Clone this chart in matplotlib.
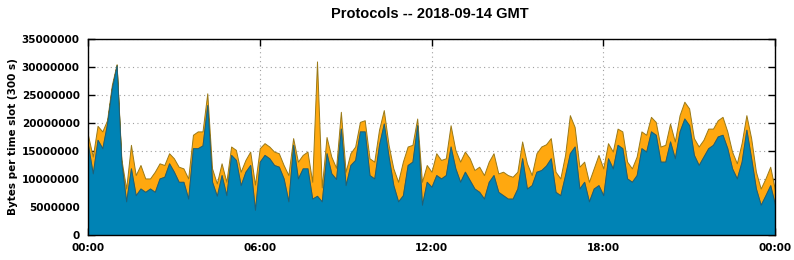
import numpy as np
import matplotlib
matplotlib.use("Agg")
import matplotlib.pyplot as plt
from matplotlib.ticker import FuncFormatter

# traffic per 10 minute slot, in millions of bytes
total = [17.8, 14.0, 19.5, 18.5, 20.5, 26.8, 30.5, 13.5, 8.3, 16.1,
         10.7, 12.5, 10.1, 10.1, 11.3, 12.8, 12.5, 14.6, 13.7, 12.2,
         11.9, 10.1, 17.9, 18.5, 18.5, 25.3, 11.9, 9.2, 12.8, 9.5,
         15.8, 15.2, 11.3, 13.4, 14.9, 9.0, 15.5, 16.4, 15.8, 14.9,
         14.6, 12.5, 10.7, 17.3, 13.1, 14.3, 14.9, 9.5, 31.0, 8.5,
         17.5, 14.0, 12.0, 22.0, 11.3, 14.6, 15.8, 20.2, 20.5, 13.7,
         13.1, 18.8, 22.3, 16.1, 11.9, 9.5, 13.1, 15.8, 16.1, 20.8,
         9.5, 12.5, 11.3, 14.6, 13.4, 13.7, 19.6, 15.2, 13.1, 14.9,
         13.7, 11.6, 12.2, 10.7, 13.1, 14.6, 11.0, 11.3, 10.7, 10.4,
         11.3, 16.7, 12.8, 10.7, 14.6, 15.8, 16.2, 17.3, 11.3, 10.1,
         14.3, 21.4, 19.3, 12.2, 13.1, 9.5, 11.9, 14.3, 11.9, 16.4,
         14.9, 19.0, 18.5, 13.1, 11.9, 14.0, 18.5, 17.9, 21.1, 20.2,
         15.8, 16.1, 19.9, 16.7, 21.4, 23.8, 22.6, 17.3, 15.8, 17.0,
         19.0, 19.0, 20.5, 21.1, 18.5, 14.9, 12.8, 16.4, 21.4, 17.3,
         11.3, 8.3, 10.1, 12.2, 8.0]
blue = [16.0, 11.0, 17.0, 15.5, 19.9, 26.2, 30.3, 12.8, 6.0, 11.9,
        7.1, 8.3, 7.7, 8.3, 7.7, 10.1, 10.4, 12.8, 11.3, 9.5,
        9.5, 6.5, 15.5, 15.5, 16.0, 23.2, 9.5, 7.0, 10.7, 7.1,
        14.3, 13.4, 8.9, 11.3, 12.5, 4.5, 13.1, 14.3, 13.7, 12.5,
        12.2, 10.1, 6.0, 16.1, 10.1, 11.9, 11.9, 6.5, 7.0, 6.0,
        14.6, 11.0, 10.0, 19.0, 8.9, 12.5, 13.4, 18.5, 18.5, 10.7,
        10.1, 16.1, 19.9, 14.0, 8.9, 6.0, 7.1, 12.5, 13.1, 19.6,
        5.4, 9.5, 8.6, 10.7, 10.1, 10.7, 15.8, 11.9, 9.5, 11.3,
        9.8, 8.3, 7.7, 6.5, 9.5, 10.7, 7.7, 7.1, 6.5, 6.5,
        8.3, 13.7, 8.3, 8.9, 11.3, 11.6, 12.4, 13.7, 7.7, 7.1,
        10.7, 14.6, 15.8, 8.3, 9.5, 6.0, 8.3, 8.9, 7.1, 13.7,
        11.9, 16.1, 15.5, 10.1, 9.5, 10.7, 15.5, 14.9, 18.5, 17.9,
        13.1, 13.1, 16.7, 13.7, 18.5, 20.8, 19.6, 14.3, 12.5, 14.0,
        15.5, 16.1, 17.6, 17.9, 15.5, 11.9, 10.1, 13.1, 18.8, 13.7,
        8.3, 5.4, 7.1, 8.9, 5.4]

hours = np.arange(len(total)) / 6.0
total = np.array(total) * 1e6
blue = np.array(blue) * 1e6

plt.rcParams["font.family"] = "DejaVu Sans"
plt.rcParams["font.weight"] = "bold"
plt.rcParams["font.size"] = 7.5

fig = plt.figure(figsize=(7.94, 2.6), dpi=100)
ax = fig.add_axes([88 / 794, 1 - 235 / 260, 687 / 794, 196 / 260])

ax.fill_between(hours, blue, total, facecolor="#ffa80f", edgecolor="#9a7a18", linewidth=0.7)
ax.fill_between(hours, 0, blue, facecolor="#0083b5", edgecolor="#1d5f78", linewidth=0.7)

ax.set_xlim(0, 24)
ax.set_ylim(0, 35e6)
ax.set_xticks([0, 6, 12, 18, 24])
ax.xaxis.set_major_formatter(FuncFormatter(lambda v, p: "%02d:00" % (int(v) % 24)))
ax.set_yticks(np.arange(0, 35e6 + 1, 5e6))
ax.yaxis.set_major_formatter(FuncFormatter(lambda v, p: "%d" % v))
ax.tick_params(direction="in", length=5, width=1, top=True, right=True, pad=6)
ax.grid(True, linestyle=(0, (1, 3)), color="#a0a0a0", linewidth=0.8)
ax.set_axisbelow(True)
for s in ax.spines.values():
    s.set_linewidth(1)
    s.set_zorder(3)

ax.set_ylabel("Bytes per time slot (300 s)", fontweight="bold", labelpad=3)
fig.text(0.541, 1 - 14 / 260, "Protocols -- 2018-09-14 GMT", fontweight="bold",
         fontsize=10.5, family="Liberation Sans", ha="center", va="center")

fig.savefig("out.png", dpi=100)
